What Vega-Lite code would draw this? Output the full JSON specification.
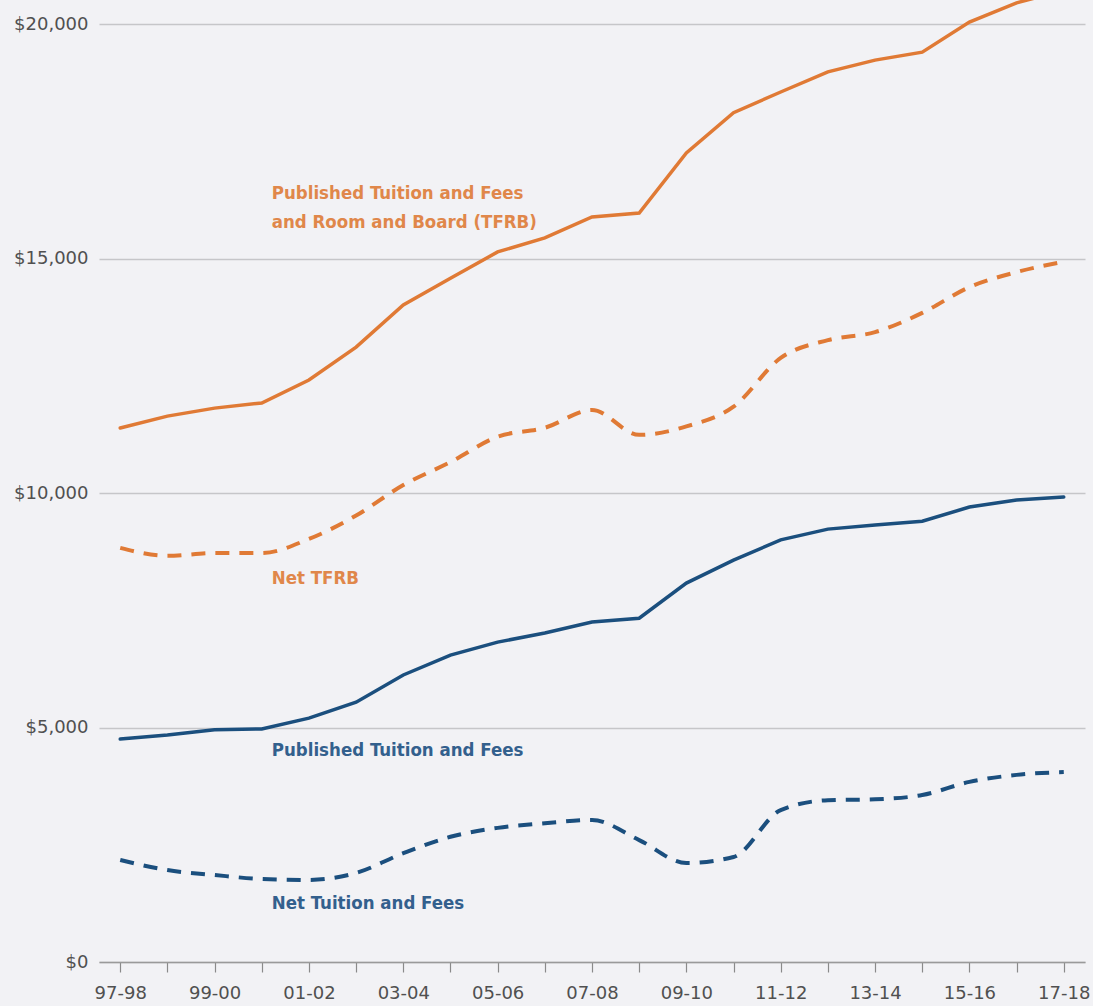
{
  "$schema": "https://vega.github.io/schema/vega-lite/v6.json",
  "width": 986,
  "height": 962,
  "autosize": "none",
  "padding": {"left": 99, "top": 0, "right": 8, "bottom": 44},
  "background": "#f2f2f5",
  "config": {
    "view": {"stroke": null},
    "axis": {"labelFont": "DejaVu Sans", "labelColor": "#505050", "labelFontSize": 18}
  },
  "datasets": {
    "series": [
      {"year": "97-98", "series": "Published TFRB", "value": 11386},
      {"year": "98-99", "series": "Published TFRB", "value": 11640},
      {"year": "99-00", "series": "Published TFRB", "value": 11810},
      {"year": "00-01", "series": "Published TFRB", "value": 11920},
      {"year": "01-02", "series": "Published TFRB", "value": 12410},
      {"year": "02-03", "series": "Published TFRB", "value": 13110},
      {"year": "03-04", "series": "Published TFRB", "value": 14010},
      {"year": "04-05", "series": "Published TFRB", "value": 14580},
      {"year": "05-06", "series": "Published TFRB", "value": 15140},
      {"year": "06-07", "series": "Published TFRB", "value": 15440},
      {"year": "07-08", "series": "Published TFRB", "value": 15885},
      {"year": "08-09", "series": "Published TFRB", "value": 15970},
      {"year": "09-10", "series": "Published TFRB", "value": 17250},
      {"year": "10-11", "series": "Published TFRB", "value": 18110},
      {"year": "11-12", "series": "Published TFRB", "value": 18550},
      {"year": "12-13", "series": "Published TFRB", "value": 18980},
      {"year": "13-14", "series": "Published TFRB", "value": 19230},
      {"year": "14-15", "series": "Published TFRB", "value": 19400},
      {"year": "15-16", "series": "Published TFRB", "value": 20040},
      {"year": "16-17", "series": "Published TFRB", "value": 20450},
      {"year": "17-18", "series": "Published TFRB", "value": 20720},

      {"year": "97-98", "series": "Net TFRB", "value": 8830},
      {"year": "98-99", "series": "Net TFRB", "value": 8660},
      {"year": "99-00", "series": "Net TFRB", "value": 8720},
      {"year": "00-01", "series": "Net TFRB", "value": 8720},
      {"year": "01-02", "series": "Net TFRB", "value": 9020},
      {"year": "02-03", "series": "Net TFRB", "value": 9520},
      {"year": "03-04", "series": "Net TFRB", "value": 10170},
      {"year": "04-05", "series": "Net TFRB", "value": 10660},
      {"year": "05-06", "series": "Net TFRB", "value": 11200},
      {"year": "06-07", "series": "Net TFRB", "value": 11390},
      {"year": "07-08", "series": "Net TFRB", "value": 11770},
      {"year": "08-09", "series": "Net TFRB", "value": 11240},
      {"year": "09-10", "series": "Net TFRB", "value": 11420},
      {"year": "10-11", "series": "Net TFRB", "value": 11840},
      {"year": "11-12", "series": "Net TFRB", "value": 12880},
      {"year": "12-13", "series": "Net TFRB", "value": 13260},
      {"year": "13-14", "series": "Net TFRB", "value": 13430},
      {"year": "14-15", "series": "Net TFRB", "value": 13840},
      {"year": "15-16", "series": "Net TFRB", "value": 14390},
      {"year": "16-17", "series": "Net TFRB", "value": 14710},
      {"year": "17-18", "series": "Net TFRB", "value": 14930},

      {"year": "97-98", "series": "Published Tuition and Fees", "value": 4755},
      {"year": "98-99", "series": "Published Tuition and Fees", "value": 4840},
      {"year": "99-00", "series": "Published Tuition and Fees", "value": 4950},
      {"year": "00-01", "series": "Published Tuition and Fees", "value": 4970},
      {"year": "01-02", "series": "Published Tuition and Fees", "value": 5200},
      {"year": "02-03", "series": "Published Tuition and Fees", "value": 5540},
      {"year": "03-04", "series": "Published Tuition and Fees", "value": 6120},
      {"year": "04-05", "series": "Published Tuition and Fees", "value": 6545},
      {"year": "05-06", "series": "Published Tuition and Fees", "value": 6820},
      {"year": "06-07", "series": "Published Tuition and Fees", "value": 7015},
      {"year": "07-08", "series": "Published Tuition and Fees", "value": 7250},
      {"year": "08-09", "series": "Published Tuition and Fees", "value": 7330},
      {"year": "09-10", "series": "Published Tuition and Fees", "value": 8080},
      {"year": "10-11", "series": "Published Tuition and Fees", "value": 8570},
      {"year": "11-12", "series": "Published Tuition and Fees", "value": 9000},
      {"year": "12-13", "series": "Published Tuition and Fees", "value": 9230},
      {"year": "13-14", "series": "Published Tuition and Fees", "value": 9320},
      {"year": "14-15", "series": "Published Tuition and Fees", "value": 9400},
      {"year": "15-16", "series": "Published Tuition and Fees", "value": 9700},
      {"year": "16-17", "series": "Published Tuition and Fees", "value": 9850},
      {"year": "17-18", "series": "Published Tuition and Fees", "value": 9915},

      {"year": "97-98", "series": "Net Tuition and Fees", "value": 2175},
      {"year": "98-99", "series": "Net Tuition and Fees", "value": 1960},
      {"year": "99-00", "series": "Net Tuition and Fees", "value": 1855},
      {"year": "00-01", "series": "Net Tuition and Fees", "value": 1770},
      {"year": "01-02", "series": "Net Tuition and Fees", "value": 1750},
      {"year": "02-03", "series": "Net Tuition and Fees", "value": 1900},
      {"year": "03-04", "series": "Net Tuition and Fees", "value": 2320},
      {"year": "04-05", "series": "Net Tuition and Fees", "value": 2670},
      {"year": "05-06", "series": "Net Tuition and Fees", "value": 2860},
      {"year": "06-07", "series": "Net Tuition and Fees", "value": 2960},
      {"year": "07-08", "series": "Net Tuition and Fees", "value": 3030},
      {"year": "08-09", "series": "Net Tuition and Fees", "value": 2600},
      {"year": "09-10", "series": "Net Tuition and Fees", "value": 2110},
      {"year": "10-11", "series": "Net Tuition and Fees", "value": 2240},
      {"year": "11-12", "series": "Net Tuition and Fees", "value": 3240},
      {"year": "12-13", "series": "Net Tuition and Fees", "value": 3450},
      {"year": "13-14", "series": "Net Tuition and Fees", "value": 3470},
      {"year": "14-15", "series": "Net Tuition and Fees", "value": 3560},
      {"year": "15-16", "series": "Net Tuition and Fees", "value": 3840},
      {"year": "16-17", "series": "Net Tuition and Fees", "value": 3990},
      {"year": "17-18", "series": "Net Tuition and Fees", "value": 4050}
    ],
    "labels": [
      {"year": "00-01", "value": 16395, "text": "Published Tuition and Fees", "group": "orange"},
      {"year": "00-01", "value": 15777, "text": "and Room and Board (TFRB)", "group": "orange"},
      {"year": "00-01", "value": 8187, "text": "Net TFRB", "group": "orange"},
      {"year": "00-01", "value": 4520, "text": "Published Tuition and Fees", "group": "blue"},
      {"year": "00-01", "value": 1258, "text": "Net Tuition and Fees", "group": "blue"}
    ]
  },
  "encoding": {
    "x": {
      "field": "year",
      "type": "ordinal",
      "sort": null,
      "scale": {"type": "point", "padding": 0.45},
      "axis": {
        "title": null,
        "labelAngle": 0,
        "labelPadding": 12,
        "tickSize": 10,
        "tickColor": "#8a8a8a",
        "tickWidth": 1.2,
        "domainColor": "#9a9a9a",
        "domainWidth": 1.5,
        "labelExpr": "indexof(['97-98','99-00','01-02','03-04','05-06','07-08','09-10','11-12','13-14','15-16','17-18'], datum.value) >= 0 ? datum.label : ''"
      }
    },
    "y": {
      "field": "value",
      "type": "quantitative",
      "scale": {"domain": [0, 20512], "nice": false, "zero": true},
      "axis": {
        "title": null,
        "values": [0, 5000, 10000, 15000, 20000],
        "format": "$,.0f",
        "domain": false,
        "ticks": false,
        "labelPadding": 11,
        "gridColor": "#c6c6c9",
        "gridWidth": 1.5
      }
    }
  },
  "layer": [
    {
      "data": {"name": "series"},
      "transform": [{"filter": "datum.series == 'Published TFRB' || datum.series == 'Published Tuition and Fees'"}],
      "mark": {"type": "line", "strokeWidth": 3.5, "clip": true, "strokeCap": "round"},
      "encoding": {
        "color": {
          "field": "series",
          "type": "nominal",
          "scale": {"domain": ["Published TFRB", "Net TFRB", "Published Tuition and Fees", "Net Tuition and Fees"], "range": ["#e07a35", "#e07a35", "#1b4f7e", "#1b4f7e"]},
          "legend": null
        }
      }
    },
    {
      "data": {"name": "series"},
      "transform": [{"filter": "datum.series == 'Net TFRB' || datum.series == 'Net Tuition and Fees'"}],
      "mark": {"type": "line", "strokeWidth": 4, "clip": true, "interpolate": "monotone", "strokeDash": [14, 10]},
      "encoding": {
        "color": {
          "field": "series",
          "type": "nominal",
          "scale": {"domain": ["Published TFRB", "Net TFRB", "Published Tuition and Fees", "Net Tuition and Fees"], "range": ["#e07a35", "#e07a35", "#1b4f7e", "#1b4f7e"]},
          "legend": null
        }
      }
    },
    {
      "data": {"name": "labels"},
      "transform": [{"filter": "datum.group == 'orange'"}],
      "mark": {"type": "text", "align": "left", "baseline": "middle", "dx": 10, "font": "DejaVu Sans Condensed, Roboto", "fontWeight": "bold", "fontSize": 18.5, "color": "#e0874a"},
      "encoding": {"text": {"field": "text"}}
    },
    {
      "data": {"name": "labels"},
      "transform": [{"filter": "datum.group == 'blue'"}],
      "mark": {"type": "text", "align": "left", "baseline": "middle", "dx": 10, "font": "DejaVu Sans Condensed, Roboto", "fontWeight": "bold", "fontSize": 18.5, "color": "#33608d"},
      "encoding": {"text": {"field": "text"}}
    }
  ]
}
